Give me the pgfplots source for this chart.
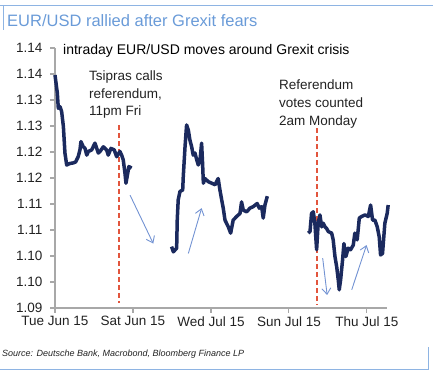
\documentclass[border=0pt]{standalone}
\usepackage{pgfplots}
\pgfplotsset{compat=1.18}
\usepackage{fontspec}
\setmainfont{Liberation Sans}
\usetikzlibrary{arrows.meta}
\definecolor{navy}{HTML}{1B2A5E}
\definecolor{titleblue}{HTML}{6A9BD8}
\definecolor{framec}{HTML}{8EB4E3}
\definecolor{arrowc}{HTML}{7393D3}
\definecolor{redc}{HTML}{E2553D}
\definecolor{axisgrey}{HTML}{A8A8A8}
\definecolor{textc}{HTML}{222222}
\begin{document}
\begin{tikzpicture}
\useasboundingbox (0pt,0pt) rectangle (433pt,371pt);
\draw[framec, line width=0.8pt] (0pt,366pt) -- (433pt,366pt);
\draw[framec, line width=0.8pt] (3pt,366pt) -- (3pt,341pt);
\draw[framec, line width=0.8pt] (0pt,2pt) -- (428pt,2pt) -- (428pt,24pt);
\node[anchor=base west, text=titleblue, font=\fontsize{16.5}{18}\selectfont, inner sep=0pt] at (7pt,344.5pt) {EUR/USD rallied after Grexit fears};
\begin{axis}[
  at={(55pt,63pt)}, anchor=south west,
  scale only axis, width=332pt, height=260pt,
  xmin=0, xmax=17.03, ymin=1.09, ymax=1.14,
  clip=false,
  axis x line*=bottom, axis y line*=left,
  axis line style={draw=axisgrey, line width=1.3pt},
  tick style={draw=axisgrey, line width=1.1pt},
  major tick length=5pt, tick align=outside,
  xtick={0,4,8,12,16},
  xticklabels={Tue Jun 15, Sat Jun 15, Wed Jul 15, Sun Jul 15, Thu Jul 15},
  ytick={1.09,1.095,1.10,1.105,1.11,1.115,1.12,1.125,1.13,1.135,1.14},
  yticklabels={1.09,1.10,1.10,1.11,1.11,1.12,1.12,1.13,1.13,1.14,1.14},
  tick label style={font=\fontsize{13.5}{16}\selectfont, text=textc},
  yticklabel style={xshift=-4pt},
  /pgf/number format/assume math mode=true,
]
% referendum markers
\addplot[redc, line width=1.2pt, dash pattern=on 5pt off 3pt] coordinates {(3.28,1.1252) (3.28,1.0910)};
\addplot[redc, line width=1.2pt, dash pattern=on 5pt off 3pt] coordinates {(13.44,1.1246) (13.44,1.0906)};
% EUR/USD intraday, segment 1
\addplot[navy, line width=3.5pt, line join=round] coordinates {
(0.00,1.1348) (0.12,1.1313) (0.17,1.1284) (0.26,1.1287) (0.34,1.1278) (0.43,1.1249)
(0.51,1.1198) (0.60,1.1175) (0.77,1.1178) (0.94,1.1179) (1.06,1.1181) (1.19,1.1191)
(1.28,1.1204) (1.33,1.1220) (1.45,1.1210) (1.54,1.1207) (1.63,1.1194) (1.71,1.1201)
(1.88,1.1204) (2.05,1.1217) (2.14,1.1207) (2.22,1.1198) (2.31,1.1201) (2.48,1.1210)
(2.65,1.1204) (2.73,1.1194) (2.87,1.1207) (3.04,1.1204) (3.16,1.1191) (3.33,1.1201)
(3.42,1.1194) (3.50,1.1185) (3.59,1.1159) (3.64,1.1140) (3.73,1.1159) (3.79,1.1172)
(3.93,1.1169)};
% segment 2
\addplot[navy, line width=3.5pt, line join=round] coordinates {
(5.98,1.1018) (6.07,1.1008) (6.24,1.1015) (6.27,1.1069) (6.32,1.1108) (6.41,1.1124)
(6.55,1.1127) (6.58,1.1153) (6.67,1.1210) (6.75,1.1252) (6.84,1.1242) (6.92,1.1223)
(7.01,1.1210) (7.09,1.1194) (7.18,1.1198) (7.27,1.1185) (7.35,1.1175) (7.44,1.1185)
(7.52,1.1217) (7.57,1.1178) (7.61,1.1140) (7.69,1.1149) (7.86,1.1143) (8.04,1.1140)
(8.21,1.1137) (8.37,1.1149) (8.46,1.1127) (8.55,1.1108) (8.63,1.1092) (8.72,1.1069)
(8.89,1.1056) (9.01,1.1044) (9.14,1.1069) (9.32,1.1076) (9.49,1.1082) (9.57,1.1104)
(9.66,1.1088) (9.83,1.1085) (10.00,1.1092) (10.17,1.1095) (10.37,1.1101) (10.48,1.1092)
(10.60,1.1095) (10.68,1.1073) (10.77,1.1098) (10.89,1.1115)};
% segment 3
\addplot[navy, line width=3.5pt, line join=round] coordinates {
(12.99,1.1044) (13.08,1.1047) (13.16,1.1082) (13.25,1.1085) (13.33,1.1063) (13.42,1.1012)
(13.50,1.1063) (13.59,1.1079) (13.68,1.1056) (13.76,1.1063) (13.85,1.1056) (13.93,1.1053)
(14.02,1.1047) (14.19,1.1044) (14.27,1.1031) (14.36,1.0999) (14.45,1.0979) (14.53,1.0954)
(14.58,1.0935) (14.65,1.0954) (14.75,1.0992) (14.82,1.1024) (14.92,1.0999) (15.04,1.1015)
(15.16,1.1012) (15.30,1.1021) (15.38,1.1044) (15.50,1.1031) (15.61,1.1073) (15.73,1.1076)
(15.90,1.1079) (16.07,1.1076) (16.19,1.1098) (16.29,1.1069) (16.41,1.1069) (16.53,1.1056)
(16.63,1.1037) (16.70,1.1002) (16.80,1.1005) (16.92,1.1063) (17.04,1.1082) (17.09,1.1098)};
% direction arrows
\addplot[arrowc, line width=0.9pt, -{Straight Barb[length=6pt,width=9pt]}] coordinates {(3.85,1.1117) (5.04,1.1024)};
\addplot[arrowc, line width=0.9pt, -{Straight Barb[length=6pt,width=9pt]}] coordinates {(6.84,1.1005) (7.52,1.1092)};
\addplot[arrowc, line width=0.9pt, -{Straight Barb[length=6pt,width=9pt]}] coordinates {(13.73,1.0996) (13.96,1.0925)};
\addplot[arrowc, line width=0.9pt, -{Straight Barb[length=6pt,width=9pt]}] coordinates {(15.22,1.0935) (15.98,1.1021)};
\end{axis}
\node[anchor=base west, text=black, font=\fontsize{14}{16}\selectfont, inner sep=0pt] at (63pt,316pt) {intraday EUR/USD moves around Grexit crisis};
\begin{scope}[every node/.style={anchor=base west, text=textc, font=\fontsize{13.5}{16}\selectfont, inner sep=0pt}]
\node at (89pt,290pt) {Tsipras calls};
\node at (89pt,272.5pt) {referendum,};
\node at (89pt,255pt) {11pm Fri};
\node at (279pt,281pt) {Referendum};
\node at (279pt,263pt) {votes counted};
\node at (279pt,245pt) {2am Monday};
\end{scope}
\node[anchor=base west, text=textc, font=\fontsize{9}{10}\selectfont\itshape, inner sep=0pt] at (2pt,14pt) {Source: Deutsche Bank, Macrobond, Bloomberg Finance LP};
\end{tikzpicture}
\end{document}
